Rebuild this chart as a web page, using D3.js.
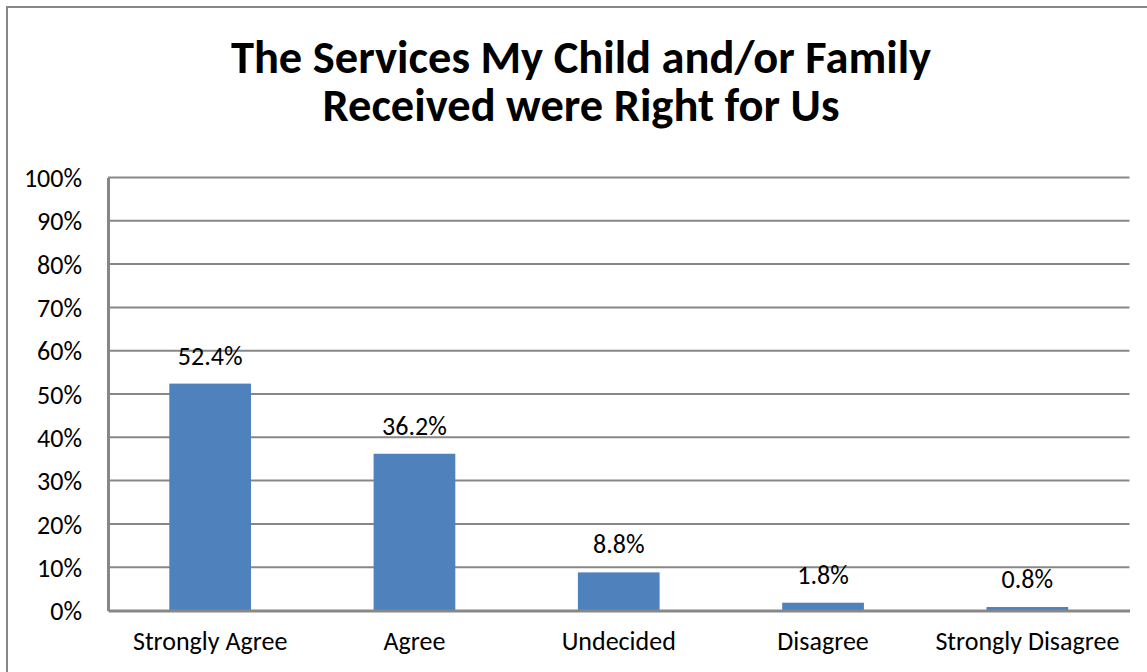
<!DOCTYPE html>
<html>
<head>
<meta charset="utf-8">
<script src="https://cdn.jsdelivr.net/npm/d3@7"></script>
<style>
  html, body { margin: 0; padding: 0; background: #fff; }
  svg { display: block; }
  text { font-family: Carlito, Calibri, Lato, "Open Sans", sans-serif; fill: #000; }
</style>
</head>
<body>
<svg id="chart" width="1147" height="672"></svg>
<script>
// Survey responses: share of respondents per answer
const categories = ["Strongly Agree", "Agree", "Undecided", "Disagree", "Strongly Disagree"];
const values = [0.524, 0.362, 0.088, 0.018, 0.008];
const yTicks = [0, 0.1, 0.2, 0.3, 0.4, 0.5, 0.6, 0.7, 0.8, 0.9, 1.0];
const titleLines = ["The Services My Child and/or Family", "Received were Right for Us"];

const W = 1147, H = 672;
const plot = { left: 108, right: 1129.5, top: 177.5, bottom: 610.5 };
const labelSize = "26px";

const svg = d3.select("#chart");

// chart frame
svg.append("rect")
  .attr("x", 7).attr("y", 7)
  .attr("width", W + 20).attr("height", H + 20)
  .attr("fill", "#fff")
  .attr("stroke", "#878787").attr("stroke-width", 2);

// title, one text element per line
svg.append("g")
  .selectAll("text")
  .data(titleLines)
  .join("text")
  .attr("x", 581)
  .attr("y", (d, i) => 73 + i * 47.5)
  .attr("text-anchor", "middle")
  .style("font-weight", "bold")
  .style("font-size", "46.5px")
  .text(d => d);

const x = d3.scaleBand()
  .domain(categories)
  .range([plot.left, plot.right])
  .paddingInner(0.6)
  .paddingOuter(0.3);

const y = d3.scaleLinear()
  .domain([0, 1])
  .range([plot.bottom, plot.top]);

// horizontal gridlines
svg.append("g")
  .selectAll("line")
  .data(yTicks.filter(d => d > 0))
  .join("line")
  .attr("x1", plot.left).attr("x2", plot.right)
  .attr("y1", d => y(d)).attr("y2", d => y(d))
  .attr("stroke", "#878787").attr("stroke-width", 2);

// y axis with percent labels
const yAxis = svg.append("g")
  .attr("transform", `translate(${plot.left},0)`)
  .call(d3.axisLeft(y).tickValues(yTicks).tickFormat(d3.format(".0%")).tickSize(0).tickPadding(26));
yAxis.select(".domain").attr("stroke", "#878787").attr("stroke-width", 3);
yAxis.selectAll("text")
  .style("font-size", labelSize)
  .style("font-family", "Carlito, Calibri, Lato, sans-serif")
  .attr("dy", "0.35em");

// bars
svg.append("g")
  .selectAll("rect")
  .data(values)
  .join("rect")
  .attr("x", (d, i) => x(categories[i]))
  .attr("width", x.bandwidth())
  .attr("y", d => y(d))
  .attr("height", d => y(0) - y(d))
  .attr("fill", "#4F81BD");

// x axis with category labels
const xAxis = svg.append("g")
  .attr("transform", `translate(0,${plot.bottom})`)
  .call(d3.axisBottom(x).tickSize(0).tickPadding(21));
xAxis.select(".domain").attr("stroke", "#878787").attr("stroke-width", 3);
xAxis.selectAll("text")
  .style("font-size", labelSize)
  .style("font-family", "Carlito, Calibri, Lato, sans-serif")
  .attr("dy", "0.71em");

// value labels
svg.append("g")
  .selectAll("text")
  .data(values)
  .join("text")
  .attr("x", (d, i) => x(categories[i]) + x.bandwidth() / 2)
  .attr("y", d => y(d) - 19)
  .attr("text-anchor", "middle")
  .style("font-size", labelSize)
  .text(d => d3.format(".1%")(d));
</script>
</body>
</html>
